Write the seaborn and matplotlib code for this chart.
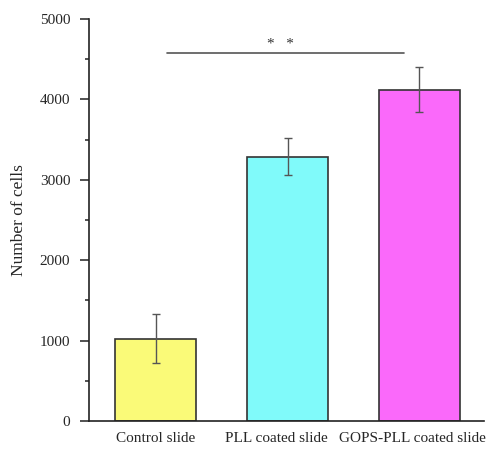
import numpy as np
import pandas as pd
import matplotlib
matplotlib.use("Agg")
import matplotlib.pyplot as plt
import matplotlib.transforms as mtransforms
from matplotlib.ticker import MultipleLocator
import seaborn as sns

sns.set_style("white")
plt.rcParams['font.family'] = ['Liberation Serif', 'DejaVu Serif']

# data
slides = ['Control slide', 'PLL coated slide', 'GOPS-PLL coated slide']
cells = [1025, 3285, 4117]
cells_err = [300, 230, 280]
bar_colors = ['#FAFA78', '#80FAFA', '#FA69FA']
sig_label = '*   *'
sig_span = [0.085, 1.886]
sig_y = 4577

df = pd.DataFrame({'slide': slides, 'cells': cells})

fig = plt.figure(figsize=(4.87, 4.5), dpi=100)
ax = fig.add_axes([0.183, 0.0644, 0.811, 0.8936])

sns.barplot(data=df, x='slide', y='cells', hue='slide', palette=bar_colors,
            legend=False, width=0.61, edgecolor='#333333', linewidth=1.2,
            saturation=1, ax=ax)
ax.errorbar(np.arange(len(slides)), cells, yerr=cells_err, fmt='none',
            ecolor='#555555', elinewidth=1, capsize=2.9, capthick=1)

# significance bar
ax.plot(sig_span, [sig_y, sig_y], color='#555555', lw=1.2)
ax.text(np.mean(sig_span) - 0.04, sig_y + 30, sig_label, ha='center', va='bottom',
        fontsize=11, color='#333333')

ax.set_xlim(-0.505, 2.49)
ax.set_ylim(0, 5000)
ax.yaxis.set_major_locator(MultipleLocator(1000))
ax.yaxis.set_minor_locator(MultipleLocator(500))
ax.tick_params(axis='y', which='major', direction='out', length=6.5, width=1.1,
               left=True, labelsize=11, color='#222222', pad=7)
ax.tick_params(axis='y', which='minor', direction='out', length=3, width=1.1,
               left=True, color='#222222')
ax.tick_params(axis='x', length=0, labelsize=11, pad=8)
ax.set_xlabel('')
ax.set_ylabel('Number of cells', fontsize=12.5, labelpad=9)

# labels in the original sit slightly left of the bar centres
label_shift = [0, -11, -7]
for lab, dx in zip(ax.get_xticklabels(), label_shift):
    lab.set_transform(lab.get_transform() +
                      mtransforms.ScaledTranslation(dx / 100, 0, fig.dpi_scale_trans))

sns.despine(ax=ax)
for s in ['left', 'bottom']:
    ax.spines[s].set_color('#222222')
    ax.spines[s].set_linewidth(1.2)

fig.savefig('out.png', dpi=100)
